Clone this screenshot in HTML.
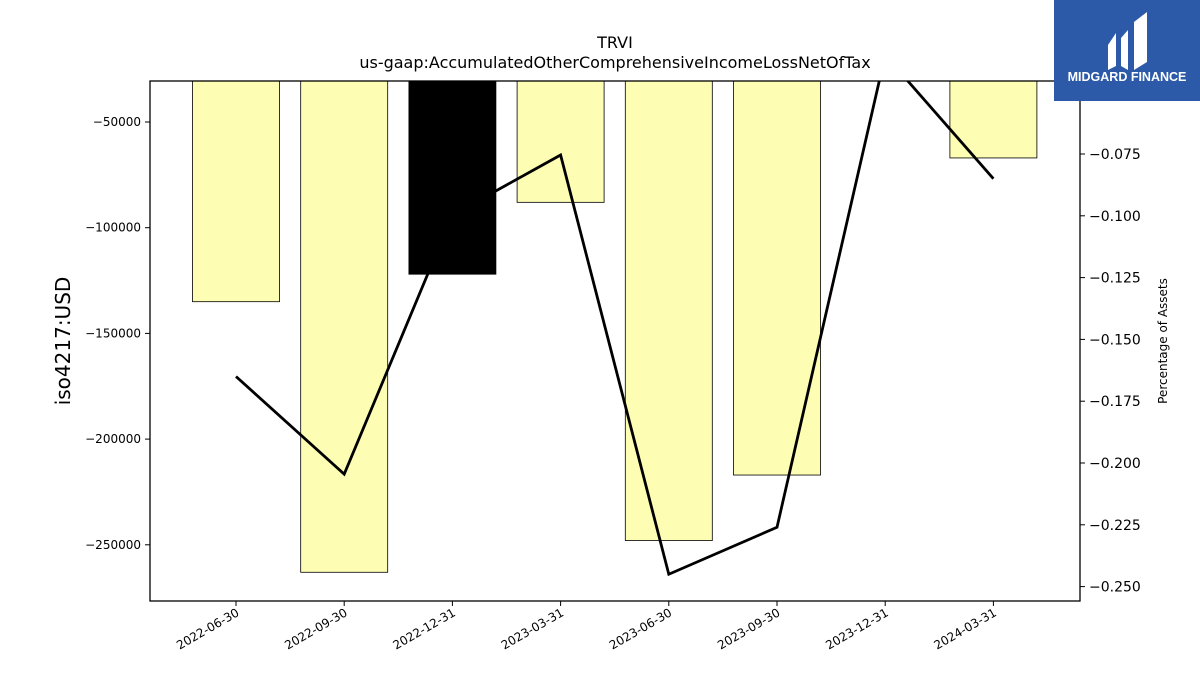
<!DOCTYPE html>
<html><head><meta charset="utf-8"><style>
body{margin:0;background:#fff;width:1200px;height:675px;overflow:hidden;font-family:"Liberation Sans","DejaVu Sans",sans-serif}
</style></head><body>
<svg id="chart" width="1200" height="675" xmlns="http://www.w3.org/2000/svg" font-family="DejaVu Sans, Liberation Sans, sans-serif">
<text x="615" y="48" font-size="16" text-anchor="middle">TRVI</text>
<text x="615" y="68" font-size="16" text-anchor="middle">us-gaap:AccumulatedOtherComprehensiveIncomeLossNetOfTax</text>
<text transform="translate(70,341) rotate(-90)" font-size="20" text-anchor="middle">iso4217:USD</text>
<text transform="translate(1167,341) rotate(-90)" font-size="12" text-anchor="middle">Percentage of Assets</text>
<g id="bars"></g><g id="line"></g><g id="axes"></g>
<g>
<rect x="1054" y="0" width="146" height="101" fill="#2c5aa9"/>
<path d="M1108 45 L1116 33 L1116 66 L1108 70 Z M1121 38 L1128 30 L1128 70 L1121 66 Z M1134 22 L1147 12 L1147 62 L1134 70 Z" fill="#fff"/>
<text x="1127" y="81" font-size="12.5" font-weight="bold" fill="#fff" text-anchor="middle" font-family="Liberation Sans, sans-serif">MIDGARD FINANCE</text>
</g>
</svg>
<script>
const categories=["2022-06-30","2022-09-30","2022-12-31","2023-03-31","2023-06-30","2023-09-30","2023-12-31","2024-03-31"];
const barValues=[-135000,-263000,-122000,-88000,-248000,-217000,null,-67000];
const pctValues=[-0.165,-0.2045,-0.0997,-0.0754,-0.245,-0.226,-0.035,-0.085];
const leftTicks=[-50000,-100000,-150000,-200000,-250000];
const rightTicks=[-0.075,-0.1,-0.125,-0.15,-0.175,-0.2,-0.225,-0.25];
const highlightIndex=2;
const NS="http://www.w3.org/2000/svg";
const L=150,R=1080,T=81,B=601;
const yL=v=>122+(v-(-50000))/(-50000)*105.7;
const yR=v=>154+(v-(-0.075))/(-0.025)*61.8;
const xC=i=>236+i*108.2;
function mk(tag,attrs,parent){const e=document.createElementNS(NS,tag);for(const k in attrs)e.setAttribute(k,attrs[k]);parent.appendChild(e);return e;}
const bars=document.getElementById('bars'),line=document.getElementById('line'),axes=document.getElementById('axes');
barValues.forEach((v,i)=>{if(v===null)return;
 const y=yL(v);
 const r=mk('rect',{x:xC(i)-43.5,y:T,width:87,height:y-T,fill:i===highlightIndex?'#000':'#fdfdb4',stroke:'#000','stroke-width':0.8},bars);
 
 
});
const cp=mk('clipPath',{id:'clip'},line);mk('rect',{x:L,y:T,width:R-L,height:B-T},cp);
const pl=mk('polyline',{points:pctValues.map((v,i)=>xC(i)+','+yR(v)).join(' '),fill:'none',stroke:'#000','stroke-width':2.8,'clip-path':'url(#clip)'},line);


const frame=mk('rect',{x:L,y:T,width:R-L,height:B-T,fill:'none',stroke:'#000','stroke-width':1.3},axes);


leftTicks.forEach(v=>{const y=yL(v);
 mk('line',{x1:L-5,x2:L,y1:y,y2:y,stroke:'#000'},axes);
 const t=mk('text',{x:L-9,y:y+4,'font-size':12,'text-anchor':'end'},axes);t.textContent='\u2212'+Math.abs(v);
 
 
});
rightTicks.forEach(v=>{const y=yR(v);
 mk('line',{x1:R,x2:R+5,y1:y,y2:y,stroke:'#000'},axes);
 const t=mk('text',{x:R+9,y:y+5,'font-size':14},axes);t.textContent='\u2212'+Math.abs(v).toFixed(3);
 
 
});
categories.forEach((c,i)=>{const x=xC(i);
 mk('line',{x1:x,x2:x,y1:B,y2:B+5,stroke:'#000'},axes);
 const t=mk('text',{x:x+4,y:B+14,'font-size':12,'text-anchor':'end',transform:`rotate(-30 ${x+4} ${B+14})`},axes);t.textContent=c;
 
 
});
</script>
</body></html>
